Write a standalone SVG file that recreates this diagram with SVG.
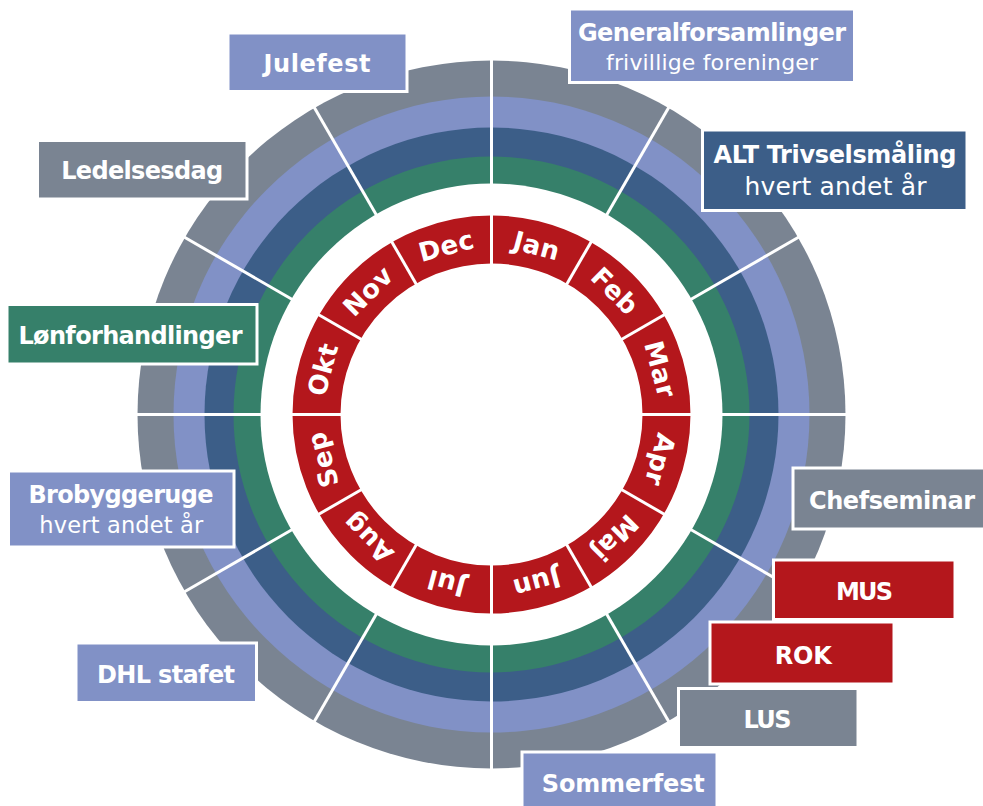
<svg xmlns="http://www.w3.org/2000/svg" xmlns:xlink="http://www.w3.org/1999/xlink" width="983" height="806" viewBox="0 0 983 806">
<style>
.div{stroke:#fff;stroke-width:3;fill:none}
.box{stroke:#fff;stroke-width:3}
.gray{fill:#7A8492}
.lb{fill:#8191C6}
.db{fill:#3C5E88}
.gr{fill:#36806A}
.rd{fill:#B4171C}
.t{font-family:"DejaVu Sans","Liberation Sans",sans-serif;font-weight:bold;font-size:24px;fill:#fff;text-anchor:middle}
.s{font-family:"DejaVu Sans","Liberation Sans",sans-serif;font-weight:normal;font-size:22px;fill:#fff;text-anchor:middle}
.m{font-family:"DejaVu Sans","Liberation Sans",sans-serif;font-weight:bold;font-size:26px;fill:#fff;text-anchor:middle;letter-spacing:0.5px}
</style>
<defs>
<line id="dv" x1="491.5" y1="186" x2="491.5" y2="57.5"/>
<line id="dvr" x1="491.5" y1="265.5" x2="491.5" y2="213.5"/>
</defs>
<rect width="983" height="806" fill="#fff"/>
<g id="rings">
<circle class="gray" cx="491.5" cy="414.5" r="354"/>
<circle class="lb" cx="491.5" cy="414.5" r="318"/>
<circle class="db" cx="491.5" cy="414.5" r="287"/>
<circle class="gr" cx="491.5" cy="414.5" r="258"/>
<circle fill="#fff" cx="491.5" cy="414.5" r="231"/>
<circle fill="none" stroke="#B4171C" stroke-width="48" cx="491.5" cy="414.5" r="175"/>
</g>
<g id="connectors" class="div">
<use xlink:href="#dv"/>
<use xlink:href="#dv" transform="rotate(30 491.5 414.5)"/>
<use xlink:href="#dv" transform="rotate(60 491.5 414.5)"/>
<use xlink:href="#dv" transform="rotate(90 491.5 414.5)"/>
<use xlink:href="#dv" transform="rotate(120 491.5 414.5)"/>
<use xlink:href="#dv" transform="rotate(150 491.5 414.5)"/>
<use xlink:href="#dv" transform="rotate(180 491.5 414.5)"/>
<use xlink:href="#dv" transform="rotate(210 491.5 414.5)"/>
<use xlink:href="#dv" transform="rotate(240 491.5 414.5)"/>
<use xlink:href="#dv" transform="rotate(270 491.5 414.5)"/>
<use xlink:href="#dv" transform="rotate(300 491.5 414.5)"/>
<use xlink:href="#dv" transform="rotate(330 491.5 414.5)"/>
<use xlink:href="#dvr"/>
<use xlink:href="#dvr" transform="rotate(30 491.5 414.5)"/>
<use xlink:href="#dvr" transform="rotate(60 491.5 414.5)"/>
<use xlink:href="#dvr" transform="rotate(90 491.5 414.5)"/>
<use xlink:href="#dvr" transform="rotate(120 491.5 414.5)"/>
<use xlink:href="#dvr" transform="rotate(150 491.5 414.5)"/>
<use xlink:href="#dvr" transform="rotate(180 491.5 414.5)"/>
<use xlink:href="#dvr" transform="rotate(210 491.5 414.5)"/>
<use xlink:href="#dvr" transform="rotate(240 491.5 414.5)"/>
<use xlink:href="#dvr" transform="rotate(270 491.5 414.5)"/>
<use xlink:href="#dvr" transform="rotate(300 491.5 414.5)"/>
<use xlink:href="#dvr" transform="rotate(330 491.5 414.5)"/>
</g>
<g id="months" class="m">
<text x="491.5" y="249" transform="rotate(15 491.5 414.5)">Jan</text>
<text x="491.5" y="249" transform="rotate(45 491.5 414.5)">Feb</text>
<text x="491.5" y="249" transform="rotate(75 491.5 414.5)">Mar</text>
<text x="491.5" y="249" transform="rotate(105 491.5 414.5)">Apr</text>
<text x="491.5" y="249" transform="rotate(135 491.5 414.5)">Maj</text>
<text x="491.5" y="249" transform="rotate(165 491.5 414.5)">Jun</text>
<text x="491.5" y="249" transform="rotate(195 491.5 414.5)">Jul</text>
<text x="491.5" y="249" transform="rotate(225 491.5 414.5)">Aug</text>
<text x="491.5" y="249" transform="rotate(255 491.5 414.5)">Sep</text>
<text x="491.5" y="249" transform="rotate(285 491.5 414.5)">Okt</text>
<text x="491.5" y="249" transform="rotate(315 491.5 414.5)">Nov</text>
<text x="491.5" y="249" transform="rotate(345 491.5 414.5)">Dec</text>
</g>
<g id="julefest"><rect class="box lb" x="228" y="33" width="179" height="58.5"/><text class="t" x="317" y="71.5" textLength="107">Julefest</text></g>
<g id="generalforsamlinger"><rect class="box lb" x="569.5" y="9" width="285" height="73.5"/><text class="t" x="712" y="40.5" textLength="268">Generalforsamlinger</text><text class="s" x="712" y="70" textLength="212">frivillige foreninger</text></g>
<g id="alt"><rect class="box db" x="702.5" y="130" width="264.5" height="80.5"/><text class="t" x="835" y="162.5" textLength="243">ALT Trivselsmåling</text><text class="s" x="835.5" y="195" style="font-size:25px" textLength="182">hvert andet år</text></g>
<g id="ledelsesdag"><rect class="box gray" x="37.5" y="140.5" width="209.5" height="58.5"/><text class="t" x="142.2" y="179" textLength="162">Ledelsesdag</text></g>
<g id="lonforhandlinger"><rect class="box gr" x="7" y="304.5" width="250" height="59.5"/><text class="t" x="130.5" y="344" textLength="224">Lønforhandlinger</text></g>
<g id="brobyggeruge"><rect class="box lb" x="8.5" y="471" width="225.5" height="76"/><text class="t" x="121" y="503" textLength="185">Brobyggeruge</text><text class="s" x="121.3" y="533" style="font-size:22.5px" textLength="164">hvert andet år</text></g>
<g id="chefseminar"><rect class="box gray" x="793" y="468" width="195" height="61"/><text class="t" x="892" y="509" textLength="166">Chefseminar</text></g>
<g id="mus"><rect class="box rd" x="773.5" y="560" width="181.5" height="59.5"/><text class="t" x="864.5" y="599.5" textLength="57">MUS</text></g>
<g id="rok"><rect class="box rd" x="710" y="622" width="184" height="62"/><text class="t" x="803.3" y="663.5" textLength="57">ROK</text></g>
<g id="lus"><rect class="box gray" x="678.5" y="688.5" width="179.5" height="59"/><text class="t" x="767.5" y="727.5" textLength="48">LUS</text></g>
<g id="dhl"><rect class="box lb" x="76" y="643" width="180.5" height="59.5"/><text class="t" x="166" y="683" textLength="138">DHL stafet</text></g>
<g id="sommerfest"><rect class="box lb" x="522" y="752" width="195" height="60"/><text class="t" x="623.3" y="791.5" textLength="163">Sommerfest</text></g>
</svg>
